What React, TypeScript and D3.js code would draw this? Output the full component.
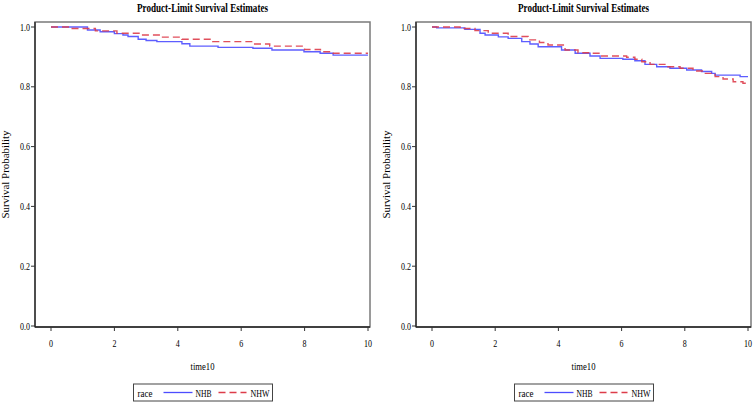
import React from "react";
import * as d3 from "d3";

const TITLE = "Product-Limit Survival Estimates";
const Y_LABEL = "Survival Probability";
const X_LABEL = "time10";
const LEGEND_TITLE = "race";
const SERIES_NAMES = ["NHB", "NHW"];
const X_TICKS = [0, 2, 4, 6, 8, 10];
const Y_TICKS = [0, 0.2, 0.4, 0.6, 0.8, 1.0];

// Panel 1 step curves: [time, survival]
const LEFT_NHB: [number, number][] = [
  [0, 1], [1.15, 0.99], [1.55, 0.984], [2.0, 0.978], [2.27, 0.973], [2.43, 0.968], [2.75, 0.959],
  [3.0, 0.955], [3.34, 0.951], [4.13, 0.944], [4.38, 0.936], [5.27, 0.932], [6.37, 0.929],
  [6.97, 0.923], [7.98, 0.917], [8.49, 0.912], [8.9, 0.906], [10, 0.906],
];
const LEFT_NHW: [number, number][] = [
  [0, 1], [0.57, 0.995], [1.4, 0.987], [2.08, 0.979], [2.81, 0.973], [3.44, 0.966], [4.13, 0.959],
  [5.1, 0.951], [6.37, 0.943], [6.9, 0.936], [8.0, 0.925], [8.5, 0.917], [8.9, 0.912], [10, 0.912],
];
// Panel 2 step curves
const RIGHT_NHB: [number, number][] = [
  [0, 1], [0.15, 0.997], [1.04, 0.992], [1.52, 0.979], [1.68, 0.973], [2.1, 0.967], [2.41, 0.962],
  [2.84, 0.951], [3.1, 0.943], [3.36, 0.934], [4.1, 0.923], [4.53, 0.912], [5.0, 0.903],
  [5.32, 0.895], [6.04, 0.892], [6.42, 0.887], [6.74, 0.875], [7.11, 0.867], [7.53, 0.862],
  [8.06, 0.856], [8.53, 0.851], [8.85, 0.845], [8.96, 0.839], [9.75, 0.834], [10, 0.834],
];
const RIGHT_NHW: [number, number][] = [
  [0, 1], [0.89, 0.995], [1.36, 0.988], [1.78, 0.979], [2.41, 0.968], [3.04, 0.957], [3.4, 0.948],
  [3.67, 0.94], [4.21, 0.923], [4.62, 0.914], [5.0, 0.912], [5.32, 0.903], [6.16, 0.899],
  [6.42, 0.892], [6.64, 0.884], [6.9, 0.875], [7.43, 0.867], [7.85, 0.862], [8.26, 0.853],
  [8.59, 0.845], [8.96, 0.834], [9.21, 0.826], [9.53, 0.817], [9.84, 0.812], [10, 0.809],
];

const BLUE = "#4d4dff";
const RED = "#dd3c4a";
const FONT = "'Liberation Serif', 'Times New Roman', serif";

type PanelProps = {
  left: number; right: number; x0: number; x10: number;
  nhb: [number, number][]; nhw: [number, number][];
};

function Panel({ left, right, x0, x10, nhb, nhw }: PanelProps) {
  const top = 22;
  const bottom = 327;
  const x = d3.scaleLinear().domain([0, 10]).range([x0, x10]);
  const y = d3.scaleLinear().domain([0, 1]).range([326, 27]);
  const line = d3.line<[number, number]>().x(d => x(d[0])).y(d => y(d[1])).curve(d3.curveStepAfter);
  const cx = (left + right) / 2;
  const legW = 139;
  const legX = cx - legW / 2 + 0.5;
  const legY = 384;
  return (
    <g fontFamily={FONT} fill="#000">
      <text x={cx} y={12} textAnchor="middle" fontWeight="bold" fontSize={13}
        textLength={131} lengthAdjust="spacingAndGlyphs">{TITLE}</text>
      <rect x={left} y={top} width={right - left} height={bottom - top} fill="none" stroke="#7a7a7a" strokeWidth={1.5} />
      <line x1={left} x2={left} y1={top} y2={bottom} stroke="#333" strokeWidth={1.5} />
      <line x1={left} x2={right} y1={bottom} y2={bottom} stroke="#222" strokeWidth={1.5} />
      {Y_TICKS.map(t => (
        <g key={"y" + t}>
          <line x1={left - 4} x2={left} y1={y(t)} y2={y(t)} stroke="#333" />
          <text x={left - 5} y={y(t) + 3.5} textAnchor="end" fontSize={11}
            textLength={10} lengthAdjust="spacingAndGlyphs">{d3.format(".1f")(t)}</text>
        </g>
      ))}
      {X_TICKS.map(t => (
        <g key={"x" + t}>
          <line x1={x(t)} x2={x(t)} y1={bottom} y2={bottom + 4} stroke="#333" />
          <text x={x(t)} y={347} textAnchor="middle" fontSize={11}
            textLength={t === 10 ? 8 : 4} lengthAdjust="spacingAndGlyphs">{t}</text>
        </g>
      ))}
      <text x={cx} y={370} textAnchor="middle" fontSize={11} textLength={24} lengthAdjust="spacingAndGlyphs">{X_LABEL}</text>
      <text transform={`translate(${left - 26},${(top + bottom) / 2}) rotate(-90)`} textAnchor="middle" fontSize={11}
        textLength={88} lengthAdjust="spacingAndGlyphs">{Y_LABEL}</text>
      <path d={line(nhb) || ""} fill="none" stroke={BLUE} strokeWidth={1.4} strokeOpacity={0.9} />
      <path d={line(nhw) || ""} fill="none" stroke={RED} strokeWidth={1.4} strokeDasharray="7,4" strokeOpacity={0.9} />
      <rect x={legX} y={legY} width={legW} height={17} fill="#fff" stroke="#444" strokeWidth={1} />
      <text x={legX + 4} y={legY + 12.5} fontSize={11} textLength={15} lengthAdjust="spacingAndGlyphs">{LEGEND_TITLE}</text>
      <line x1={legX + 30} x2={legX + 59} y1={legY + 8.5} y2={legY + 8.5} stroke={BLUE} strokeWidth={1.3} />
      <text x={legX + 62} y={legY + 12.5} fontSize={11} textLength={16} lengthAdjust="spacingAndGlyphs">{SERIES_NAMES[0]}</text>
      <line x1={legX + 85} x2={legX + 113} y1={legY + 8.5} y2={legY + 8.5} stroke={RED} strokeWidth={1.3} strokeDasharray="7,4" />
      <text x={legX + 117} y={legY + 12.5} fontSize={11} textLength={19} lengthAdjust="spacingAndGlyphs">{SERIES_NAMES[1]}</text>
    </g>
  );
}

export default function App() {
  return (
    <svg width={754} height={403} style={{ position: "absolute", left: 0, top: 0, background: "#fff" }}>
      <rect x={0} y={0} width={754} height={403} fill="#fff" />
      <Panel left={35} right={370} x0={51} x10={368} nhb={LEFT_NHB} nhw={LEFT_NHW} />
      <Panel left={416} right={751} x0={432} x10={748} nhb={RIGHT_NHB} nhw={RIGHT_NHW} />
    </svg>
  );
}
